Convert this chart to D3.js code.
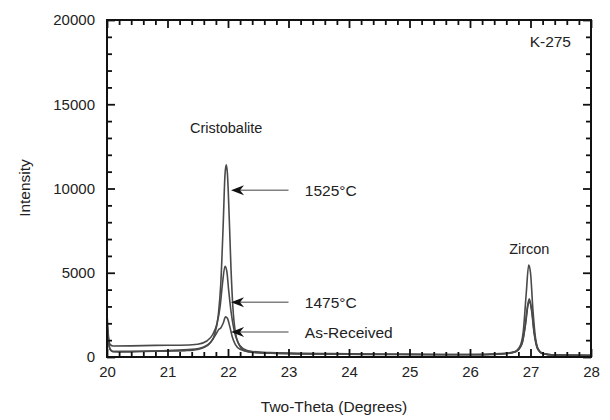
<!DOCTYPE html>
<html>
<head>
<meta charset="utf-8">
<script src="https://cdn.jsdelivr.net/npm/d3@7"></script>
<style>
  body { margin: 0; background: #fff; }
  text { font-family: "Liberation Sans", Arial, sans-serif; fill: #222; }
</style>
</head>
<body>
<svg id="chart" width="610" height="420"></svg>
<script>
// two-theta / intensity readings, one array per sample
const asReceived = [
  [20.00, 2000], [20.02, 1000], [20.05, 450], [20.10, 330], [20.50, 340], [21.00, 380],
  [21.40, 450], [21.60, 600], [21.72, 900], [21.80, 1350], [21.85, 1650], [21.88, 1720],
  [21.92, 2000], [21.96, 2380], [21.99, 2300], [22.03, 1800], [22.07, 1200], [22.12, 750],
  [22.20, 450], [22.35, 300], [22.60, 240], [23.00, 210], [24.00, 180], [25.00, 160],
  [26.00, 150], [26.50, 200], [26.75, 320], [26.86, 800], [26.92, 2000], [26.96, 3100],
  [26.98, 3300], [27.02, 2700], [27.06, 1400], [27.12, 450], [27.20, 200], [27.40, 110], [28.00, 90]
];
const fired1475 = [
  [20.00, 2600], [20.02, 1400], [20.05, 750], [20.10, 650], [20.40, 660], [20.80, 690],
  [21.20, 700], [21.50, 760], [21.65, 950], [21.75, 1350], [21.82, 2000], [21.87, 3000],
  [21.91, 4400], [21.95, 5380], [21.98, 5100], [22.01, 4000], [22.05, 2700], [22.10, 1600],
  [22.16, 900], [22.25, 500], [22.40, 330], [22.70, 260], [23.00, 230], [24.00, 190],
  [25.00, 160], [26.00, 150], [26.50, 180], [26.75, 300], [26.85, 700], [26.91, 1800],
  [26.95, 3000], [26.98, 3450], [27.02, 2800], [27.06, 1500], [27.12, 500], [27.20, 220],
  [27.40, 120], [28.00, 100]
];
const fired1525 = [
  [20.00, 2300], [20.02, 1200], [20.05, 500], [20.10, 320], [20.30, 300], [20.60, 330],
  [21.00, 350], [21.30, 380], [21.50, 450], [21.60, 560], [21.70, 820], [21.78, 1350],
  [21.84, 2500], [21.88, 4300], [21.92, 7800], [21.95, 10800], [21.97, 11400], [21.99, 10900],
  [22.02, 8300], [22.05, 5200], [22.08, 3000], [22.12, 1500], [22.18, 750], [22.25, 420],
  [22.40, 280], [22.70, 230], [23.00, 200], [23.50, 180], [24.00, 160], [24.50, 150],
  [25.00, 140], [25.50, 130], [26.00, 130], [26.40, 150], [26.70, 260], [26.82, 600],
  [26.88, 1500], [26.93, 3800], [26.97, 5450], [27.00, 5000], [27.04, 2800], [27.08, 1200],
  [27.13, 450], [27.20, 200], [27.40, 110], [28.00, 90]
];
const xTicks = [20, 21, 22, 23, 24, 25, 26, 27, 28];
const yTicks = [0, 5000, 10000, 15000, 20000];

// arrow callouts: [label, arrow height]
const callouts = [["1525°C", 9900], ["1475°C", 3250], ["As-Received", 1480]];
const peakLabels = [["Cristobalite", 21.97, 13300], ["Zircon", 26.98, 6100]];

const svg = d3.select("#chart");
const margin = {top: 20, right: 19, bottom: 63, left: 107};
const W = 610 - margin.left - margin.right;
const H = 420 - margin.top - margin.bottom;

const x = d3.scaleLinear().domain([20, 28]).range([0, W]);
const y = d3.scaleLinear().domain([0, 20000]).range([H, 0]);

const g = svg.append("g").attr("transform", `translate(${margin.left},${margin.top})`);

// curves
const line = d3.line().x(d => x(d[0])).y(d => y(d[1])).curve(d3.curveMonotoneX);
g.append("defs").append("clipPath").attr("id", "clip")
  .append("rect").attr("width", W).attr("height", H);
[asReceived, fired1475, fired1525].forEach(s => {
  g.append("path").datum(s).attr("d", line).attr("clip-path", "url(#clip)")
    .attr("fill", "none").attr("stroke", "#4a4a4a").attr("stroke-width", 1.6);
});

// inward ticks on all four sides: minor every 0.2 deg / 1000 counts, major at labels
const minorX = d3.range(0, 41).map(i => 20 + i * 0.2).filter((v, i) => i % 5 !== 0);
const minorY = d3.range(0, 21).filter(i => i % 5 !== 0).map(i => i * 1000);
function tickAxis(axis, vals, size, tx, ty) {
  const a = g.append("g").attr("transform", `translate(${tx},${ty})`)
    .call(axis.tickValues(vals).tickSize(size).tickFormat(() => ""));
  a.select(".domain").remove();
  a.selectAll(".tick line").attr("stroke", "#111").attr("stroke-width", 1.8);
}
tickAxis(d3.axisBottom(x), minorX, -5, 0, H);
tickAxis(d3.axisBottom(x), xTicks, -8, 0, H);
tickAxis(d3.axisTop(x), minorX, -5, 0, 0);
tickAxis(d3.axisTop(x), xTicks, -8, 0, 0);
tickAxis(d3.axisLeft(y), minorY, -5, 0, 0);
tickAxis(d3.axisLeft(y), yTicks, -8, 0, 0);
tickAxis(d3.axisRight(y), minorY, -5, W, 0);
tickAxis(d3.axisRight(y), yTicks, -8, W, 0);

// frame
g.append("rect").attr("width", W).attr("height", H)
  .attr("fill", "none").attr("stroke", "#111").attr("stroke-width", 2);

// tick labels via axis generators
const xAxis = g.append("g").attr("transform", `translate(0,${H})`)
  .call(d3.axisBottom(x).tickValues(xTicks).tickFormat(d3.format("d")).tickSize(0).tickPadding(9));
const yAxis = g.append("g")
  .call(d3.axisLeft(y).tickValues(yTicks).tickFormat(d3.format("d")).tickSize(0).tickPadding(12));
[xAxis, yAxis].forEach(a => {
  a.select(".domain").remove();
  a.selectAll("text").attr("font-size", 15).attr("fill", "#222")
    .attr("font-family", "Liberation Sans, Arial, sans-serif");
});

// arrows
const shaftStart = 23.0, headTip = 22.05, textX = 23.27;
callouts.forEach(([label, v]) => {
  const yy = y(v);
  g.append("line").attr("x1", x(shaftStart)).attr("x2", x(headTip) + 8)
    .attr("y1", yy).attr("y2", yy).attr("stroke", "#808080").attr("stroke-width", 1.6);
  const tx = x(headTip);
  g.append("path")
    .attr("d", `M${tx},${yy} L${tx + 13},${yy - 5} L${tx + 9},${yy} L${tx + 13},${yy + 5} Z`)
    .attr("fill", "#111");
  g.append("text").attr("x", x(textX)).attr("y", yy).attr("dy", "0.36em")
    .attr("font-size", 15.5).text(label);
});

peakLabels.forEach(([label, px, py]) => {
  g.append("text").attr("x", x(px)).attr("y", y(py)).attr("text-anchor", "middle")
    .attr("font-size", 14.5).text(label);
});

g.append("text").attr("x", W - 20).attr("y", 27).attr("text-anchor", "end")
  .attr("font-size", 15.5).text("K-275");

svg.append("text").attr("x", 334).attr("y", 412).attr("text-anchor", "middle")
  .attr("font-size", 15.5).text("Two-Theta (Degrees)");
svg.append("text").attr("transform", "translate(30,188) rotate(-90)")
  .attr("text-anchor", "middle").attr("font-size", 15.5).text("Intensity");
</script>
</body>
</html>
